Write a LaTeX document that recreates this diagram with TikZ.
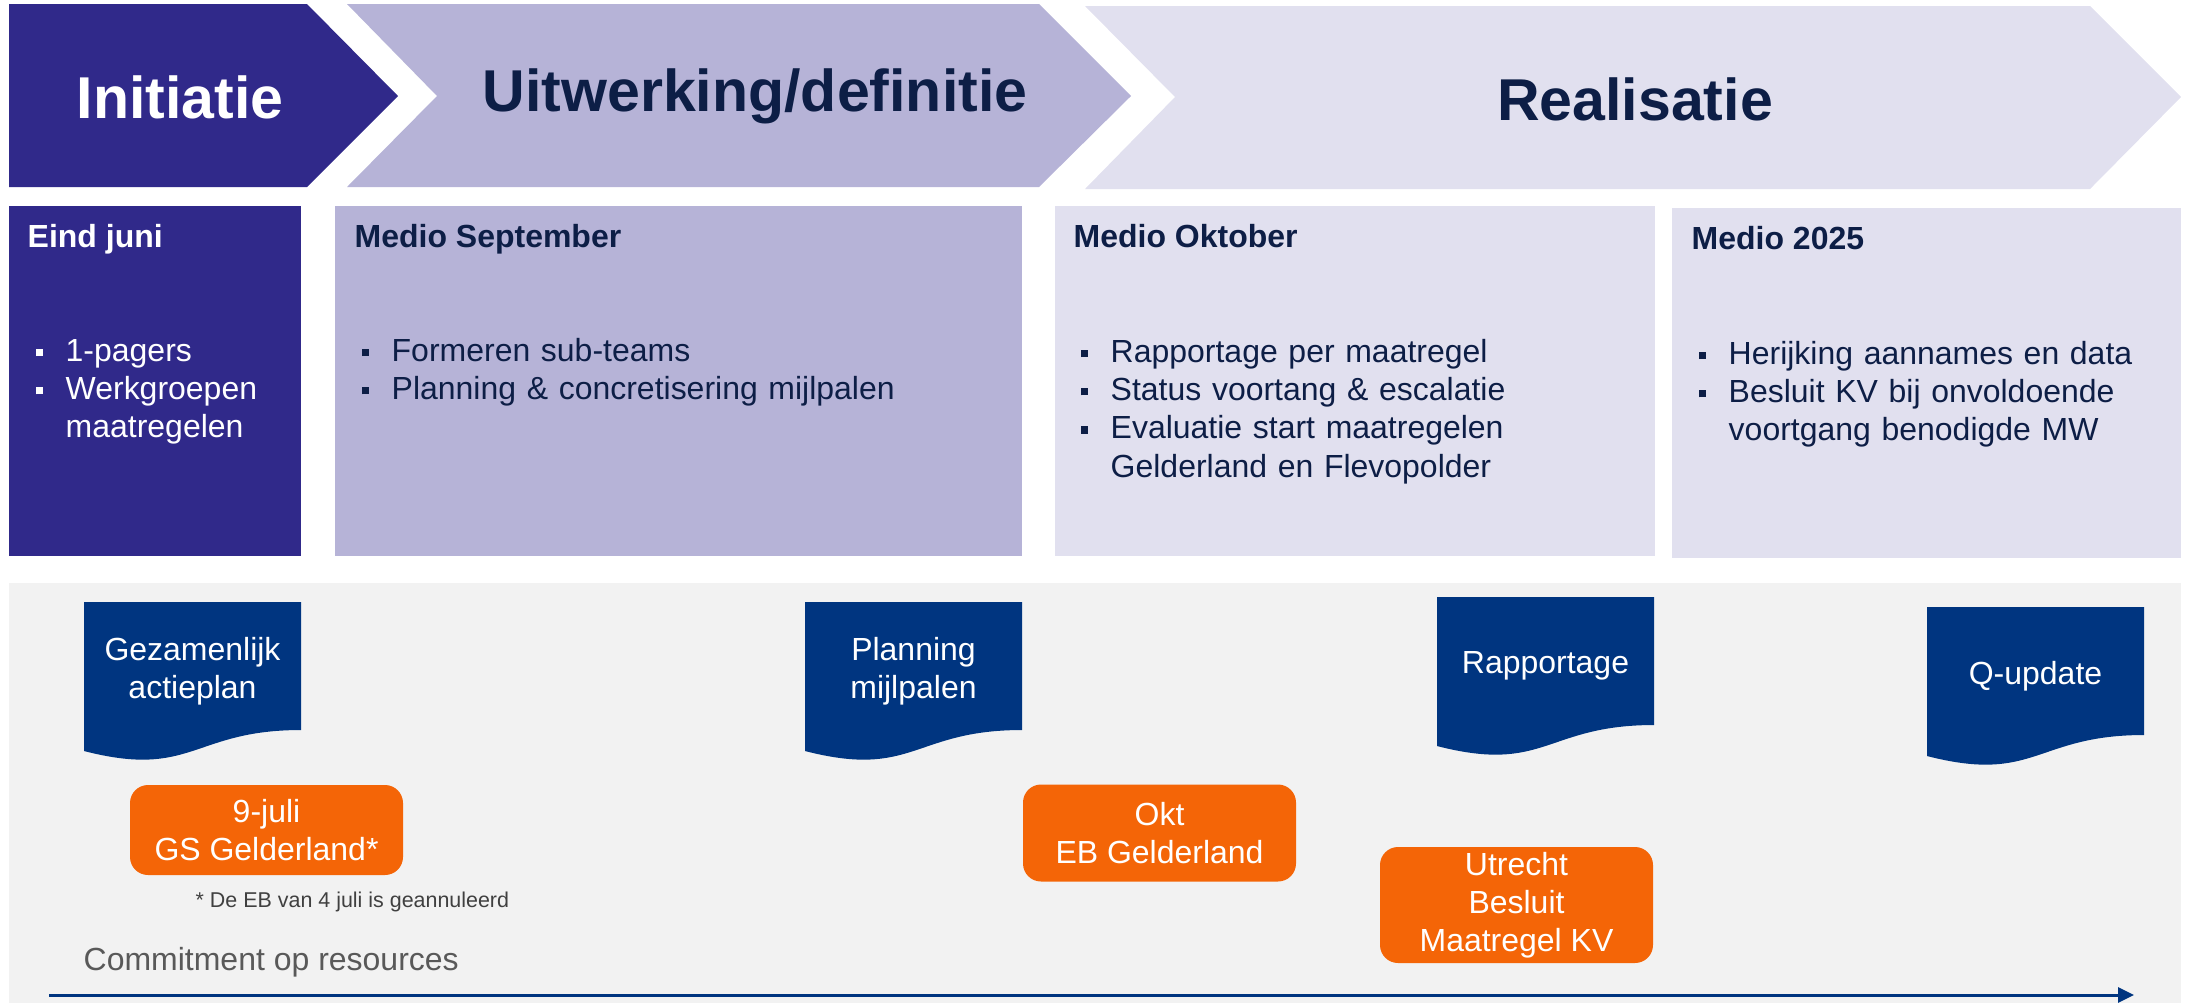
\documentclass[tikz,border=0pt]{standalone}
\usepackage{fontspec}
\setmainfont{Liberation Sans}
\usetikzlibrary{arrows.meta}
\definecolor{indigo}{HTML}{30298A}
\definecolor{lilac}{HTML}{B6B3D7}
\definecolor{lavender}{HTML}{E1E0EF}
\definecolor{navy}{HTML}{0D1E46}
\definecolor{docblue}{HTML}{003580}
\definecolor{mileorange}{HTML}{F46507}
\definecolor{panelgrey}{HTML}{F2F2F2}
\definecolor{footgrey}{HTML}{404040}
\definecolor{commitgrey}{HTML}{595959}
\newcommand{\blt}{\makebox[3mm][l]{\rule[0.5mm]{0.75mm}{0.75mm}}}
\newcommand{\ind}{\hspace*{3mm}}
\tikzset{
  phase/.style={font=\fontsize{16.8}{20}\selectfont\bfseries, anchor=base, inner sep=0},
  period/.style={font=\fontsize{9.1}{11}\selectfont\bfseries, anchor=base west, inner sep=0},
  points/.style={font=\fontsize{9.1}{10.95}\selectfont, anchor=base west, inner sep=0, text width=70mm, align=left},
  doctext/.style={font=\fontsize{9.1}{10.8}\selectfont, text=white, align=center},
  milestone/.style={fill=mileorange, rounded corners=1.8mm, minimum width=27.3mm, inner sep=0, text=white, align=center, font=\fontsize{9.1}{10.8}\selectfont}
}
\begin{document}
\begin{tikzpicture}[x=0.1mm, y=-0.1mm, line join=round]
    \useasboundingbox (0,0) rectangle (2189,1003);
    \fill[indigo] (9,4) -- (307,4) -- (398,96) -- (307,187) -- (9,187) -- cycle;
    \fill[lilac] (347,4) -- (1039,4) -- (1131,96) -- (1039,187) -- (347,187) -- (437,96) -- cycle;
    \fill[lavender] (1085,6) -- (2090,6) -- (2181,97) -- (2090,189) -- (1085,189) -- (1175,97) -- cycle;
    \node[phase, text=white] (init) at (180,118) {Initiatie};
    \node[phase, text=navy] (uitw) at (755,111) {Uitwerking/definitie};
    \node[phase, text=navy] (real) at (1635,120) {Realisatie};
    \fill[indigo] (9,206) rectangle (301,556);
    \fill[lilac] (335,206) rectangle (1022,556);
    \fill[lavender] (1055,206) rectangle (1655,556);
    \fill[lavender] (1672,208) rectangle (2181,558);
    \node[period, text=white] (juni) at (27,247) {Eind juni};
    \node[period, text=navy] (sept) at (354,247) {Medio September};
    \node[period, text=navy] (okt) at (1073,247) {Medio Oktober};
    \node[period, text=navy] (m2025) at (1691,249) {Medio 2025};
    \node[points, text=white] (ljuni) at (35,361) {\blt 1-pagers\\\blt Werkgroepen\\\ind maatregelen};
    \node[points, text=navy] (lsept) at (361,361) {\blt Formeren sub-teams\\\blt Planning \& concretisering mijlpalen};
    \node[points, text=navy] (lokt) at (1080,362) {\blt Rapportage per maatregel\\\blt Status voortang \& escalatie\\\blt Evaluatie start maatregelen\\\ind Gelderland en Flevopolder};
    \node[points, text=navy] (l2025) at (1698,364) {\blt Herijking aannames en data\\\blt Besluit KV bij onvoldoende\\\ind voortgang benodigde MW};
    \fill[panelgrey] (9,583) rectangle (2181,1003);
    \foreach \x/\y/\name/\txt in {84/602/plan/{Gezamenlijk\\actieplan}, 805/602/mijl/{Planning\\mijlpalen}, 1437/597/rapp/Rapportage, 1927/607/qupd/Q-update}{
      \begin{scope}[shift={(\x,\y)}]
        \fill[docblue] (0,0) -- (217,0) -- (217,128) .. controls (108.5,128) and (108.5,177) .. (0,149) -- cycle;
        \node[doctext] (\name) at (108.5,69) {\txt};
      \end{scope}
    }
    \node[milestone, minimum height=9.0mm] (gs) at (266.5,830) {9-juli\\GS Gelderland*};
    \node[milestone, minimum height=9.7mm] (eb) at (1159.5,833) {Okt\\EB Gelderland};
    \node[milestone, minimum height=11.6mm] (utr) at (1516.5,905) {Utrecht\\Besluit\\Maatregel KV};
    \node[font=\fontsize{6.1}{7}\selectfont, text=footgrey, anchor=base west, inner sep=0] (fn) at (195,907) {* De EB van 4 juli is geannuleerd};
    \node[font=\fontsize{9.1}{11}\selectfont, text=commitgrey, anchor=base west, inner sep=0] (comm) at (83,970) {Commitment op resources};
    \coordinate (t0) at (49,995);
    \coordinate (t1) at (2134,995);
    \draw[docblue, line width=0.3mm, -{Triangle[length=1.6mm, width=1.5mm]}] (t0) -- (t1);
\end{tikzpicture}
\end{document}
